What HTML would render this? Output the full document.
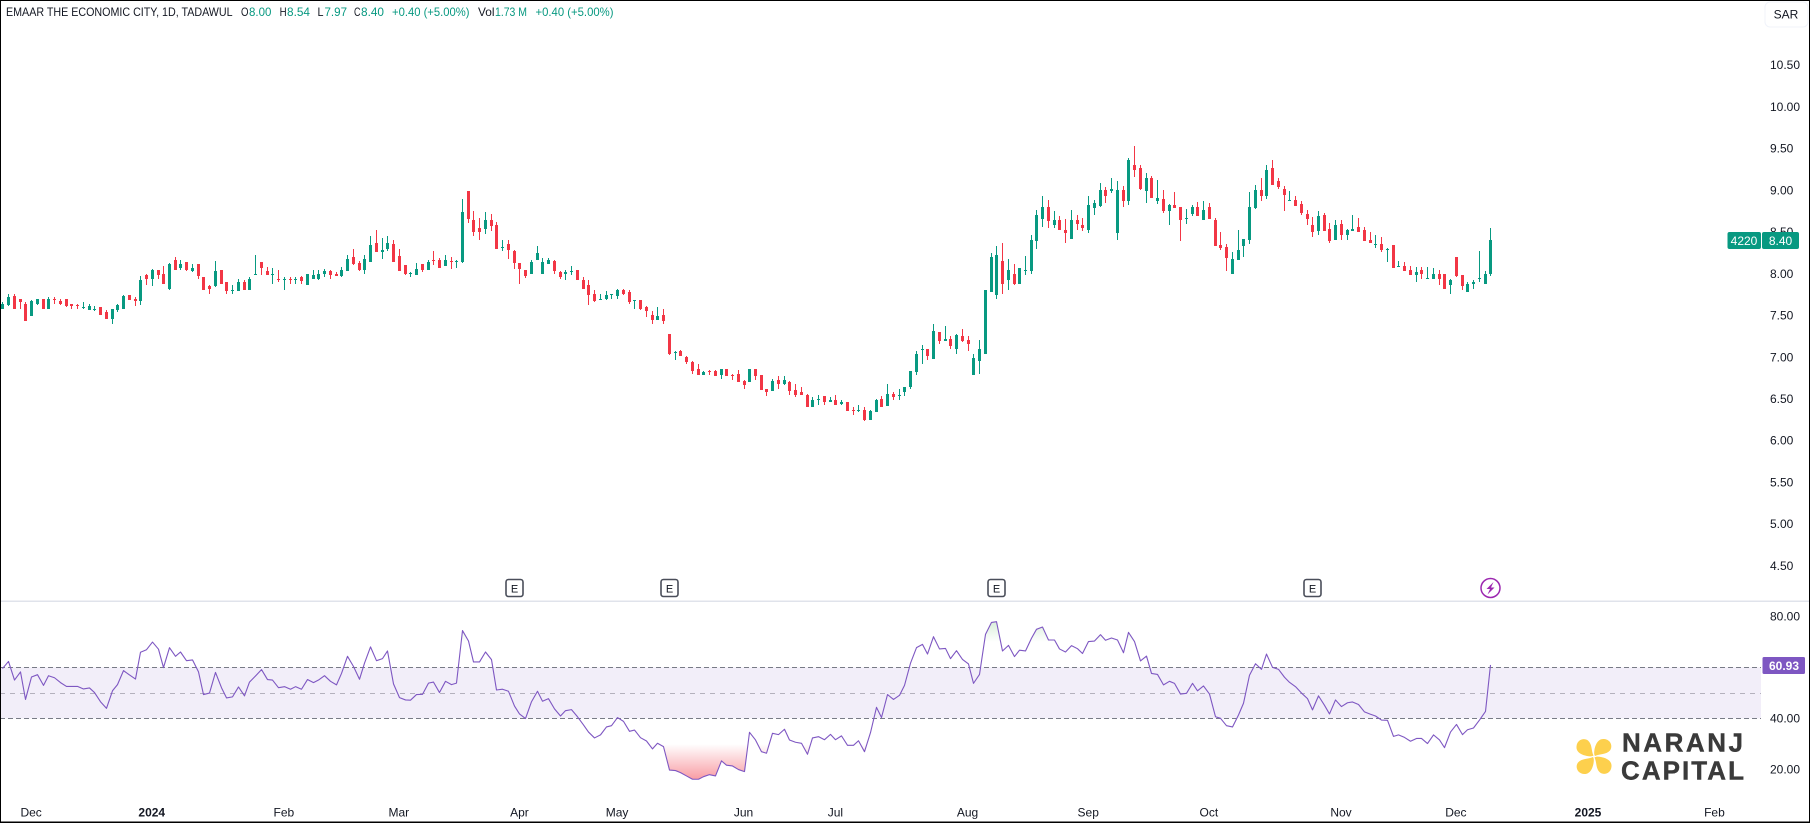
<!DOCTYPE html>
<html lang="en">
<head>
<meta charset="utf-8">
<title>EMAAR THE ECONOMIC CITY chart</title>
<style>
html,body{margin:0;padding:0;background:#fff;width:1810px;height:823px;overflow:hidden}
svg{display:block}
text{font-family:"Liberation Sans",sans-serif}
</style>
</head>
<body>
<svg id="chart" xmlns="http://www.w3.org/2000/svg" width="1810" height="823" viewBox="0 0 1810 823">
  <defs>
    <linearGradient id="rsiRedGrad" gradientUnits="userSpaceOnUse" x1="0" y1="744" x2="0" y2="780">
      <stop offset="0" stop-color="#f23645" stop-opacity="0"/>
      <stop offset="1" stop-color="#f23645" stop-opacity="0.5"/>
    </linearGradient>
    <linearGradient id="rsiGreenGrad" gradientUnits="userSpaceOnUse" x1="0" y1="642" x2="0" y2="618">
      <stop offset="0" stop-color="#4caf50" stop-opacity="0"/>
      <stop offset="1" stop-color="#4caf50" stop-opacity="0.25"/>
    </linearGradient>
    <clipPath id="clipAboveRsi"><path id="clipAbovePath" d=""/></clipPath>
    <clipPath id="clipBelowRsi"><path id="clipBelowPath" d=""/></clipPath>
  </defs>

  <rect x="0" y="0" width="1810" height="823" fill="#ffffff"/>
  <rect x="0" y="600.5" width="1810" height="1.5" fill="#e0e3eb"/>

  <g id="rsiPane"></g>
  <g id="candles"></g>
  <g id="priceAxis"></g>
  <g id="rsiAxis"></g>
  <g id="timeAxis"></g>
  <g id="events"></g>

  <g font-size="12" fill="#131722">
    <text x="6" y="16" textLength="226.6" lengthAdjust="spacingAndGlyphs">EMAAR THE ECONOMIC CITY, 1D, TADAWUL</text>
    <text x="241" y="16" textLength="7.5" lengthAdjust="spacingAndGlyphs">O</text>
    <text x="249" y="16" fill="#089981" textLength="22.4" lengthAdjust="spacingAndGlyphs">8.00</text>
    <text x="279.6" y="16" textLength="7" lengthAdjust="spacingAndGlyphs">H</text>
    <text x="287" y="16" fill="#089981" textLength="23" lengthAdjust="spacingAndGlyphs">8.54</text>
    <text x="317.5" y="16" textLength="6" lengthAdjust="spacingAndGlyphs">L</text>
    <text x="324.5" y="16" fill="#089981" textLength="22.5" lengthAdjust="spacingAndGlyphs">7.97</text>
    <text x="354" y="16" textLength="6.5" lengthAdjust="spacingAndGlyphs">C</text>
    <text x="361" y="16" fill="#089981" textLength="23" lengthAdjust="spacingAndGlyphs">8.40</text>
    <text x="392" y="16" fill="#089981" textLength="77.5" lengthAdjust="spacingAndGlyphs">+0.40 (+5.00%)</text>
    <text x="478" y="16" textLength="16.5" lengthAdjust="spacingAndGlyphs">Vol</text>
    <text x="495" y="16" fill="#089981" textLength="32" lengthAdjust="spacingAndGlyphs">1.73 M</text>
    <text x="535.5" y="16" fill="#089981" textLength="78" lengthAdjust="spacingAndGlyphs">+0.40 (+5.00%)</text>
  </g>

  <g>
    <rect x="1765" y="2" width="43" height="25" rx="5" fill="#ffffff" stroke="#f0f3fa" stroke-width="1"/>
    <text x="1786" y="18.5" font-size="12" fill="#131722" text-anchor="middle">SAR</text>
  </g>

  <g>
    <rect x="1727.5" y="232" width="33.5" height="17" rx="2" fill="#089981"/>
    <text x="1744" y="245" font-size="12" fill="#ffffff" text-anchor="middle">4220</text>
    <rect x="1762" y="232" width="37" height="17" rx="2" fill="#089981"/>
    <text x="1780.5" y="245" font-size="12" fill="#ffffff" text-anchor="middle">8.40</text>
  </g>
  <g>
    <rect x="1762.5" y="657" width="42.5" height="17" rx="1.5" fill="#7e57c2"/>
    <text x="1784" y="670" font-size="12" font-weight="bold" fill="#ffffff" text-anchor="middle">60.93</text>
  </g>

  <g>
    <g transform="translate(1594 756.5)" fill="#fdd04d">
      <path d="M-0.5,-1 C-3,-6 -1.5,-12 -6,-16 C-10,-19 -17,-17 -17.5,-10 C-18,-4 -12,-1.5 -7,-0.5 C-4,0 -2,0 -0.5,-1 Z"/>
      <path transform="rotate(90)" d="M-0.5,-1 C-3,-6 -1.5,-12 -6,-16 C-10,-19 -17,-17 -17.5,-10 C-18,-4 -12,-1.5 -7,-0.5 C-4,0 -2,0 -0.5,-1 Z"/>
      <path transform="rotate(180)" d="M-0.5,-1 C-3,-6 -1.5,-12 -6,-16 C-10,-19 -17,-17 -17.5,-10 C-18,-4 -12,-1.5 -7,-0.5 C-4,0 -2,0 -0.5,-1 Z"/>
      <path transform="rotate(270)" d="M-0.5,-1 C-3,-6 -1.5,-12 -6,-16 C-10,-19 -17,-17 -17.5,-10 C-18,-4 -12,-1.5 -7,-0.5 C-4,0 -2,0 -0.5,-1 Z"/>
    </g>
    <text x="1622" y="751.7" font-size="26" font-weight="bold" fill="#3a3a3a" stroke="#3a3a3a" stroke-width="0.4" textLength="121" lengthAdjust="spacing">NARANJ</text>
    <text x="1621" y="779.3" font-size="26" font-weight="bold" fill="#3a3a3a" stroke="#3a3a3a" stroke-width="0.4" textLength="123" lengthAdjust="spacing">CAPITAL</text>
  </g>

  <g fill="#000000">
    <rect x="0" y="0" width="1" height="823"/>
    <rect x="0" y="0" width="1810" height="1"/>
    <rect x="1809" y="0" width="1" height="823"/>
    <rect x="0" y="821.5" width="1810" height="1.5"/>
  </g>
</svg>

<script>
var opens=[
7.58,7.62,7.73,7.69,7.64,7.49,7.63,7.69,7.58,7.69,
7.67,7.69,7.63,7.62,7.59,7.56,7.56,7.60,7.54,7.45,
7.56,7.58,7.74,7.70,7.67,7.98,7.93,8.04,8.00,7.82,
8.16,8.06,8.14,8.03,8.11,7.96,7.85,7.85,8.04,7.90,
7.79,7.79,7.90,7.80,7.99,8.14,8.03,7.98,7.94,7.93,
7.93,7.93,7.96,7.86,7.93,7.94,7.99,8.03,8.00,7.97,
8.03,8.20,8.12,8.04,8.14,8.36,8.26,8.29,8.35,8.21,
8.10,8.00,7.98,8.11,8.04,8.16,8.16,8.09,8.15,8.14,
8.14,8.99,8.64,8.54,8.53,8.64,8.58,8.30,8.35,8.27,8.12,
8.04,7.99,8.16,8.00,8.11,8.15,8.02,8.00,8.02,8.04,
7.92,7.86,7.76,7.69,7.70,7.74,7.73,7.80,7.78,7.67,
7.68,7.60,7.50,7.44,7.50,7.27,7.05,7.07,7.00,6.94,
6.85,6.78,6.83,6.83,6.78,6.85,6.78,6.79,6.71,6.70,
6.86,6.78,6.62,6.59,6.72,6.67,6.70,6.60,6.58,6.55,
6.40,6.49,6.53,6.46,6.49,6.44,6.46,6.36,6.35,6.37,
6.24,6.34,6.50,6.41,6.56,6.54,6.58,6.64,6.82,7.08,
7.10,6.98,7.30,7.19,7.21,7.09,7.25,7.20,6.78,6.95,
7.04,7.78,7.74,8.15,7.92,8.00,7.87,8.03,8.03,8.39,
8.65,8.80,8.58,8.64,8.52,8.41,8.64,8.58,8.52,8.78,
8.81,9.00,8.99,8.48,9.00,8.87,9.30,9.26,8.99,9.14,
8.87,8.89,8.75,8.82,8.80,8.65,8.71,8.80,8.64,8.80,
8.64,8.34,8.32,8.00,8.16,8.33,8.40,8.78,9.00,8.93,
9.26,9.11,9.01,8.87,8.88,8.83,8.71,8.58,8.51,8.70,
8.53,8.40,8.59,8.46,8.51,8.56,8.52,8.40,8.34,8.35,
8.28,8.34,8.08,8.09,8.04,7.98,8.04,7.93,7.93,7.99,
7.99,7.86,8.20,7.98,7.78,7.88,7.93,7.88,8.00];
var highs=[
7.66,7.75,7.75,7.69,7.66,7.68,7.70,7.69,7.72,7.72,
7.70,7.69,7.63,7.63,7.66,7.63,7.61,7.60,7.56,7.57,
7.64,7.74,7.74,7.72,7.97,8.00,8.05,8.04,8.09,8.12,
8.20,8.16,8.14,8.11,8.11,7.96,7.86,8.15,8.04,7.90,
7.86,7.93,7.92,7.96,8.22,8.14,8.08,8.06,8.04,7.96,
7.96,7.96,7.97,7.99,8.04,8.04,8.05,8.04,8.02,8.08,
8.22,8.29,8.15,8.22,8.45,8.52,8.42,8.45,8.40,8.29,
8.10,8.02,8.12,8.11,8.16,8.27,8.18,8.22,8.20,8.16,
8.89,8.99,8.75,8.66,8.74,8.71,8.62,8.40,8.40,8.28,8.12,
8.04,8.16,8.33,8.18,8.18,8.16,8.03,8.04,8.09,8.04,
7.96,7.92,7.80,7.75,7.79,7.75,7.82,7.81,7.80,7.68,
7.68,7.61,7.55,7.60,7.58,7.28,7.07,7.08,7.01,6.95,
6.92,6.83,6.84,6.84,6.85,6.86,6.79,6.84,6.72,6.86,
6.86,6.78,6.62,6.73,6.77,6.77,6.71,6.67,6.64,6.56,
6.52,6.55,6.53,6.52,6.54,6.49,6.46,6.40,6.43,6.40,
6.36,6.50,6.53,6.68,6.58,6.62,6.64,6.83,7.07,7.14,
7.10,7.39,7.30,7.37,7.25,7.27,7.34,7.25,7.03,7.20,
7.80,8.24,8.33,8.36,8.17,8.11,8.06,8.21,8.46,8.76,
8.93,8.88,8.75,8.69,8.65,8.76,8.70,8.66,8.93,8.88,
9.08,9.04,9.14,9.11,9.05,9.38,9.53,9.30,9.20,9.17,
9.12,9.00,8.83,8.98,8.80,8.77,8.82,8.86,8.87,8.84,
8.66,8.50,8.35,8.26,8.52,8.41,8.98,9.06,9.14,9.30,
9.36,9.14,9.05,8.99,8.93,8.87,8.76,8.68,8.75,8.72,
8.60,8.64,8.64,8.53,8.70,8.66,8.56,8.50,8.46,8.44,
8.30,8.34,8.15,8.14,8.09,8.08,8.08,8.08,8.06,8.04,
7.99,7.94,8.20,7.98,7.90,7.92,8.27,8.03,8.54];
var lows=[
7.57,7.61,7.57,7.58,7.43,7.49,7.62,7.58,7.58,7.64,
7.62,7.60,7.58,7.58,7.58,7.56,7.55,7.50,7.45,7.39,
7.54,7.58,7.68,7.61,7.62,7.86,7.85,7.94,7.87,7.80,
8.04,8.04,8.03,8.02,7.93,7.80,7.75,7.84,7.88,7.75,
7.76,7.79,7.80,7.80,7.98,7.98,7.98,7.87,7.90,7.80,
7.87,7.88,7.88,7.86,7.93,7.92,7.96,7.93,7.97,7.96,
8.03,8.10,8.03,7.99,8.14,8.26,8.17,8.27,8.14,8.03,
7.98,7.96,7.98,8.02,8.04,8.10,8.06,8.09,8.05,8.06,
8.12,8.60,8.45,8.40,8.47,8.51,8.29,8.27,8.17,8.05,7.87,
7.95,7.99,8.16,8.00,8.11,8.00,7.93,7.92,7.98,7.92,
7.82,7.62,7.66,7.68,7.68,7.69,7.69,7.74,7.64,7.57,
7.56,7.48,7.40,7.44,7.39,7.02,6.96,7.01,6.92,6.79,
6.78,6.78,6.78,6.77,6.74,6.77,6.72,6.70,6.62,6.70,
6.72,6.60,6.53,6.59,6.62,6.66,6.55,6.52,6.54,6.40,
6.40,6.43,6.42,6.46,6.42,6.42,6.35,6.31,6.34,6.23,
6.24,6.34,6.40,6.41,6.48,6.48,6.53,6.61,6.78,6.91,
6.96,6.98,7.15,7.19,7.10,7.04,7.18,7.07,6.78,6.79,
7.04,7.78,7.69,7.75,7.80,7.86,7.87,7.98,7.99,8.29,
8.56,8.54,8.54,8.52,8.36,8.41,8.52,8.51,8.48,8.70,
8.80,8.84,8.96,8.40,8.80,8.82,9.16,9.00,8.84,8.90,
8.83,8.72,8.58,8.78,8.39,8.59,8.69,8.69,8.64,8.65,
8.33,8.28,8.03,8.00,8.16,8.20,8.35,8.77,8.87,8.89,
9.06,9.01,8.75,8.87,8.81,8.70,8.58,8.44,8.46,8.51,
8.36,8.40,8.40,8.40,8.51,8.50,8.39,8.36,8.30,8.26,
8.14,8.06,8.08,8.03,7.98,7.90,7.94,7.93,7.93,7.86,
7.82,7.76,7.96,7.80,7.78,7.82,7.90,7.88,7.97];
var closes=[
7.63,7.72,7.57,7.66,7.43,7.67,7.69,7.58,7.70,7.68,
7.63,7.61,7.61,7.61,7.60,7.61,7.57,7.50,7.45,7.57,
7.62,7.73,7.68,7.67,7.92,7.93,8.04,7.98,7.87,8.11,
8.04,8.11,8.04,8.06,7.97,7.80,7.81,8.03,7.88,7.79,
7.80,7.90,7.80,7.94,8.00,8.06,7.98,7.99,7.93,7.94,
7.92,7.94,7.91,7.99,7.98,7.99,8.03,7.98,7.97,8.04,
8.17,8.11,8.04,8.17,8.34,8.26,8.28,8.36,8.14,8.03,
8.00,8.01,8.05,8.04,8.14,8.15,8.06,8.16,8.14,8.15,
8.74,8.65,8.50,8.50,8.64,8.57,8.29,8.32,8.28,8.12,8.05,
7.97,8.14,8.24,8.14,8.16,8.03,7.96,8.02,8.03,7.92,
7.82,7.74,7.67,7.69,7.74,7.75,7.80,7.75,7.66,7.68,
7.58,7.55,7.44,7.49,7.43,7.04,7.06,7.01,6.94,6.83,
6.78,6.82,6.82,6.77,6.85,6.77,6.77,6.70,6.66,6.86,
6.77,6.60,6.58,6.71,6.67,6.72,6.59,6.55,6.54,6.40,
6.49,6.50,6.46,6.49,6.42,6.46,6.35,6.35,6.37,6.24,
6.35,6.49,6.40,6.56,6.52,6.55,6.64,6.83,7.04,7.09,
7.01,7.31,7.19,7.22,7.13,7.26,7.19,7.15,6.99,7.09,
7.80,8.20,8.22,7.87,8.04,7.88,8.06,8.04,8.40,8.70,
8.80,8.63,8.64,8.52,8.48,8.64,8.59,8.54,8.82,8.84,
9.00,8.93,9.01,9.00,8.87,9.36,9.24,9.01,9.14,8.90,
8.90,8.75,8.82,8.78,8.64,8.66,8.80,8.69,8.76,8.65,
8.33,8.30,8.18,8.17,8.28,8.41,8.80,9.00,8.93,9.24,
9.06,9.04,8.94,8.88,8.81,8.72,8.65,8.50,8.69,8.51,
8.39,8.58,8.46,8.52,8.53,8.50,8.39,8.36,8.35,8.28,
8.29,8.06,8.09,8.03,7.98,8.02,8.00,7.95,7.99,7.93,
7.82,7.92,7.97,7.85,7.88,7.90,7.95,7.99,8.40];
var rsiValues=[
59.5,62.3,55.0,58.2,47.4,56.2,57.1,52.9,56.7,55.9,
54.0,52.5,52.5,52.5,51.5,51.9,50.1,46.5,43.9,50.8,
53.2,58.7,57.0,55.4,65.9,66.9,69.9,67.1,59.9,67.7,
64.3,66.0,62.6,62.9,58.2,49.3,49.9,58.0,52.0,48.0,
48.4,52.3,48.8,54.2,56.6,59.1,55.2,55.0,52.0,52.4,
51.4,52.4,51.4,55.2,54.0,55.0,56.7,54.5,53.1,57.6,
64.3,60.3,55.3,61.6,68.0,62.6,63.4,66.4,53.5,48.1,
47.2,47.1,49.3,49.4,53.8,54.2,50.1,54.5,53.2,53.8,
74.4,70.3,62.1,62.1,66.0,63.0,51.1,51.4,50.6,44.8,41.7,
39.9,46.5,50.6,46.7,47.7,43.7,40.9,43.0,43.4,40.6,
37.4,34.6,32.3,33.5,36.6,37.1,40.3,38.8,34.9,35.4,
32.4,31.1,28.0,30.2,28.9,19.7,19.5,18.7,17.4,16.1,
16.1,17.1,17.9,17.4,23.3,21.6,21.3,19.9,19.1,34.5,
31.5,26.9,26.3,34.1,33.6,35.7,31.5,30.6,30.2,25.9,
32.3,32.8,31.6,33.7,31.6,33.1,29.4,29.4,31.2,26.9,
34.4,44.3,40.3,49.3,47.4,49.0,52.9,61.6,67.7,69.0,
65.2,72.0,67.2,67.4,63.4,66.5,63.1,61.3,53.7,57.2,
72.9,77.6,77.9,66.4,68.6,64.2,66.7,66.4,71.4,74.9,
75.8,70.7,70.7,67.2,66.0,68.5,67.3,65.4,70.1,70.3,
72.8,70.6,71.5,70.7,65.7,73.7,70.1,62.5,64.4,57.6,
57.2,53.1,54.5,53.7,49.5,49.8,53.7,50.8,52.7,49.5,
40.6,40.0,37.1,36.6,41.3,45.9,56.9,61.4,59.2,65.2,
60.0,59.2,56.1,54.1,52.4,49.9,47.7,43.3,48.8,45.1,
41.7,47.2,44.6,46.1,46.4,45.4,42.5,41.6,40.9,39.3,
39.2,32.9,33.5,32.5,31.0,32.1,32.1,30.1,33.5,31.5,
28.5,34.6,37.6,33.6,35.5,36.2,39.3,42.7,60.93];
var priceTicks=[10.5,10,9.5,9,8.5,8,7.5,7,6.5,6,5.5,5,4.5];
var rsiTicks=[80,40,20];
var rsiLevels=[60,50,40];
var timeLabels=["Dec","2024","Feb","Mar","Apr","May","Jun","Jul","Aug","Sep","Oct","Nov","Dec","2025","Feb"];
var timeBars=[5,26,49,69,90,107,129,145,168,189,210,233,253,276,298];
var earningsBars=[89,116,173,228];
var dividendBars=[259];

var NS="http://www.w3.org/2000/svg";
function mk(tag,attrs,parent){
  var el=document.createElementNS(NS,tag);
  for(var k in attrs){el.setAttribute(k,attrs[k]);}
  parent.appendChild(el);
  return el;
}
function barCol(i){return Math.ceil(1.9+5.745*i);}
function xAt(i){return barCol(i)+0.5;}
function priceY(p){return 273.5+(8-p)*83.45;}
function rsiY(v){return 769.3-(v-20)*2.55;}

/* candles */
function drawCandles(){
  var candleGroup=document.getElementById('candles');
  for(var i=0;i<opens.length;i++){
    var up=closes[i]>=opens[i];
    var color=up?'#089981':'#f23645';
    var col=barCol(i);
    var bodyTop=Math.round(priceY(Math.max(opens[i],closes[i])));
    var bodyBottom=Math.round(priceY(Math.min(opens[i],closes[i])));
    var hi=Math.round(priceY(highs[i]));
    var lo=Math.round(priceY(lows[i]));
    var wick=mk('rect',{x:col,y:hi,width:1,height:Math.max(1,lo-hi),fill:color,'shape-rendering':'crispEdges'},candleGroup);
    
    
    var body=mk('rect',{x:col-1,y:bodyTop,width:3,height:Math.max(1,bodyBottom-bodyTop),fill:color,'shape-rendering':'crispEdges'},candleGroup);
    
    
  }
}
drawCandles();

/* RSI pane */
var rsiPane=document.getElementById('rsiPane');
var band=mk('rect',{x:0,y:rsiY(rsiLevels[0]),width:1761,height:rsiY(rsiLevels[2])-rsiY(rsiLevels[0]),fill:'#7e57c2','fill-opacity':'0.1'},rsiPane);


rsiLevels.forEach(function(level,idx){
  var isMid=idx===1;
  var ly=Math.round(rsiY(level))+0.5;
  var levelLine=mk('line',{x1:0,x2:1761,y1:ly,y2:ly,stroke:isMid?'#b4b1bd':'#787b86','stroke-width':1,'stroke-dasharray':isMid?'5 5':'5 3'},rsiPane);
  
  
});
var linePts=rsiValues.map(function(v,idx){return xAt(idx)+','+rsiY(v).toFixed(2);});
var firstX=xAt(0),lastX=xAt(rsiValues.length-1);
document.getElementById('clipAbovePath').setAttribute('d','M'+firstX+',602 L'+linePts.join(' L')+' L'+lastX+',602 Z');
document.getElementById('clipBelowPath').setAttribute('d','M'+firstX+',800 L'+linePts.join(' L')+' L'+lastX+',800 Z');
var redFill=mk('rect',{x:0,y:rsiY(30),width:1761,height:800-rsiY(30),fill:'url(#rsiRedGrad)','clip-path':'url(#clipAboveRsi)'},rsiPane);


var greenFill=mk('rect',{x:0,y:602,width:1761,height:rsiY(70)-602,fill:'url(#rsiGreenGrad)','clip-path':'url(#clipBelowRsi)'},rsiPane);


var rsiLine=mk('polyline',{points:linePts.join(' '),fill:'none',stroke:'#7e57c2','stroke-width':1.1,'stroke-linejoin':'round'},rsiPane);



/* axes */
var priceAxis=document.getElementById('priceAxis');
priceTicks.forEach(function(p){
  var t=mk('text',{x:1770,y:priceY(p)+4.3,'font-size':12,fill:'#131722'},priceAxis);
  
  
  t.textContent=p.toFixed(2);
});
var rsiAxis=document.getElementById('rsiAxis');
rsiTicks.forEach(function(v){
  var t=mk('text',{x:1770,y:rsiY(v)+4.3,'font-size':12,fill:'#131722'},rsiAxis);
  
  
  t.textContent=v.toFixed(2);
});
var timeAxis=document.getElementById('timeAxis');
timeLabels.forEach(function(label,idx){
  var isYear=/^\d+$/.test(label);
  var t=mk('text',{x:2.4+5.745*timeBars[idx],y:816.3,'font-size':12,fill:'#131722','text-anchor':'middle','font-weight':isYear?'bold':'normal'},timeAxis);
  
  
  t.textContent=label;
});

/* events */
var eventsGroup=document.getElementById('events');
earningsBars.forEach(function(b){
  var cx=xAt(b);
  var box=mk('rect',{x:cx-8.5,y:579.5,width:17,height:17,rx:2.5,fill:'#ffffff',stroke:'#4a4e5a','stroke-width':1.6},eventsGroup);
  
  
  var t=mk('text',{x:cx,y:592.5,'font-size':11,fill:'#131722','text-anchor':'middle'},eventsGroup);
  
  
  t.textContent='E';
});
dividendBars.forEach(function(b){
  var cx=xAt(b);
  var ring=mk('circle',{cx:cx,cy:588,r:9.5,fill:'#ffffff',stroke:'#9c27b0','stroke-width':1.5},eventsGroup);
  
  
  var bolt=mk('polygon',{points:[cx+3,582,cx-4,589,cx-0.5,589,cx-3,594.5,cx+4,587.5,cx+0.5,587.5].join(' '),fill:'#9c27b0'},eventsGroup);
  
  
});
</script>
</body>
</html>
